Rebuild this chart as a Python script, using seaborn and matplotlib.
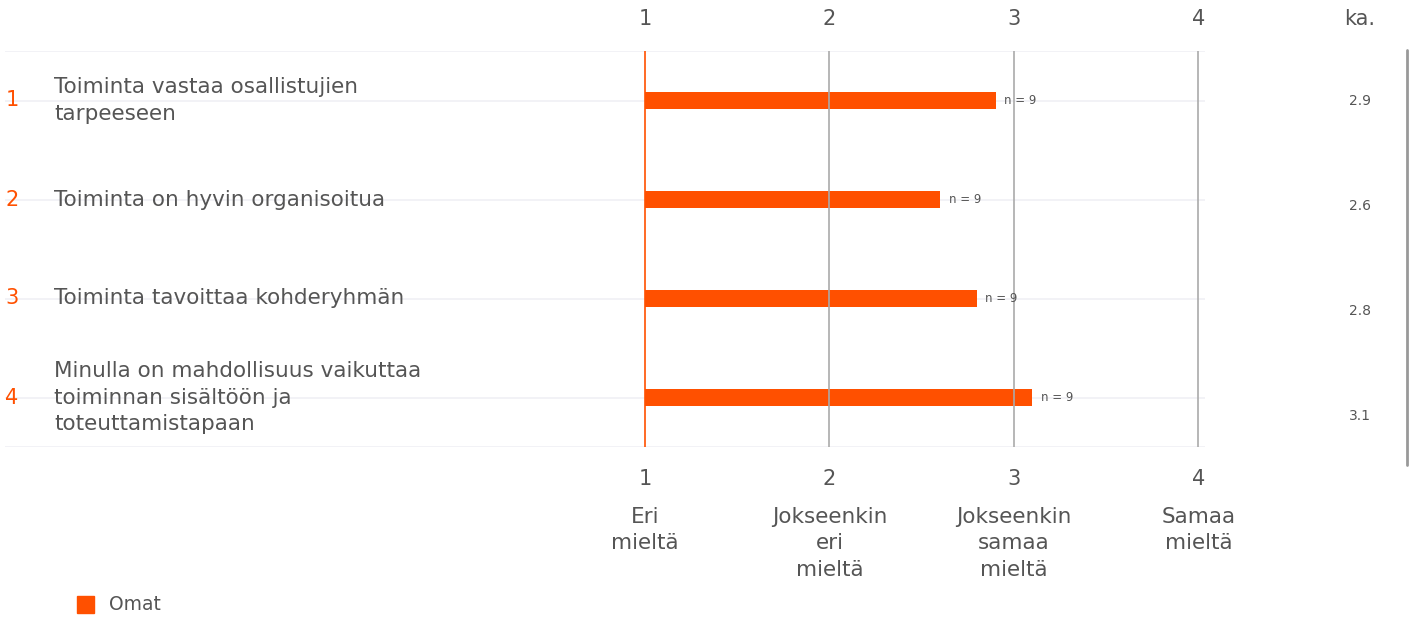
import matplotlib
matplotlib.use("Agg")
import matplotlib.pyplot as plt
import matplotlib.transforms as mtrans
import seaborn as sns
import pandas as pd

# ---- data ----
row_numbers = ["1", "2", "3", "4"]
statements = [
    "Toiminta vastaa osallistujien\ntarpeeseen",
    "Toiminta on hyvin organisoitua",
    "Toiminta tavoittaa kohderyhmän",
    "Minulla on mahdollisuus vaikuttaa\ntoiminnan sisältöön ja\ntoteuttamistapaan",
]
means = [2.9, 2.6, 2.8, 3.1]
n_labels = ["n = 9", "n = 9", "n = 9", "n = 9"]
mean_labels = ["2.9", "2.6", "2.8", "3.1"]
scale_ticks = [1, 2, 3, 4]
scale_labels = ["Eri\nmieltä", "Jokseenkin\neri\nmieltä", "Jokseenkin\nsamaa\nmieltä", "Samaa\nmieltä"]
series_name = "Omat"

ORANGE = "#ff5000"
TEXT = "#555555"
GRID = "#f0f0f5"
VLINE = "#aaaaaa"

sns.set_theme(style="white")
plt.rcParams['font.family'] = ['DejaVu Sans']

W, H = 1409, 617
fig = plt.figure(figsize=(W / 100, H / 100), dpi=100)

# axes spans px 5..1205 horizontally, 51..447 vertically
ax = fig.add_axes([5 / W, (H - 447) / H, 1200 / W, 396 / H])

df = pd.DataFrame({"row": list(range(len(means))), "mean": means})
sns.barplot(data=df, x="mean", y="row", orient="h", color=ORANGE,
            width=0.18, ax=ax, saturation=1, native_scale=True)
# bars start at scale value 1
for p, v in zip(ax.patches, means):
    p.set_x(1)
    p.set_width(v - 1)
    p.set_edgecolor("none")

xl = (1 - 640 / 184.5, 1 + 560 / 184.5)
ax.set_xlim(*xl)
ax.set_ylim(3.5, -0.5)
for s in ax.spines.values():
    s.set_visible(False)
ax.set_xlabel("")
ax.set_ylabel("")
ax.set_yticks([])
ax.set_xticks([])

# horizontal light grid lines
for yv in [-0.5, 0, 1, 2, 3, 3.5]:
    ax.axhline(yv, color=GRID, lw=1.2, zorder=0)
# vertical scale lines
ax.axvline(1, color=ORANGE, lw=1.2, zorder=3)
for xv in [2, 3, 4]:
    ax.axvline(xv, color=VLINE, lw=1.2, zorder=1)

# top & bottom tick numbers
trans_xfig = mtrans.blended_transform_factory(ax.transData, fig.transFigure)
for t in scale_ticks:
    ax.text(t, 1 - 19 / H, str(t), transform=trans_xfig, ha="center", va="center",
            fontsize=15, color=TEXT)
    ax.text(t, 1 - 479 / H, str(t), transform=trans_xfig, ha="center", va="center",
            fontsize=15, color=TEXT)
for t, lab in zip(scale_ticks, scale_labels):
    ax.text(t, 1 - 507 / H, lab, transform=trans_xfig, ha="center", va="top",
            fontsize=15.5, color=TEXT, linespacing=1.4)

# row labels
tr_row = mtrans.blended_transform_factory(fig.transFigure, ax.transData)
for i, (num, st) in enumerate(zip(row_numbers, statements)):
    ax.text(12 / W, i, num, transform=tr_row,
            ha="center", va="center", fontsize=15, color=ORANGE)
    ax.text(54 / W, i, st, transform=tr_row,
            ha="left", va="center", fontsize=15.5, color=TEXT, linespacing=1.38)

# n labels
for i, (v, nl) in enumerate(zip(means, n_labels)):
    ax.annotate(nl, (v, i), xytext=(6, 0), textcoords="offset points",
                ha="left", va="center", fontsize=8.5, color=TEXT)

# mean column
fig.text(1360 / W, 1 - 19 / H, "ka.", ha="center", va="center", fontsize=15, color=TEXT)
mean_y = [101, 206, 311, 416]
for yy, ml in zip(mean_y, mean_labels):
    fig.text(1360 / W, 1 - yy / H, ml, ha="center", va="center", fontsize=10, color=TEXT)
fig.add_artist(plt.Line2D([1407 / W, 1407 / W], [1 - 50 / H, 1 - 465 / H],
                          transform=fig.transFigure, color="#999999", lw=2))

# legend
fig.patches.append(plt.Rectangle((77 / W, 1 - 613 / H), 17 / W, 17 / H,
                                 transform=fig.transFigure, color=ORANGE))
fig.text(109 / W, 1 - 605 / H, series_name, ha="left", va="center", fontsize=13.5, color=TEXT)

fig.savefig("out.png", dpi=100, facecolor="white")
